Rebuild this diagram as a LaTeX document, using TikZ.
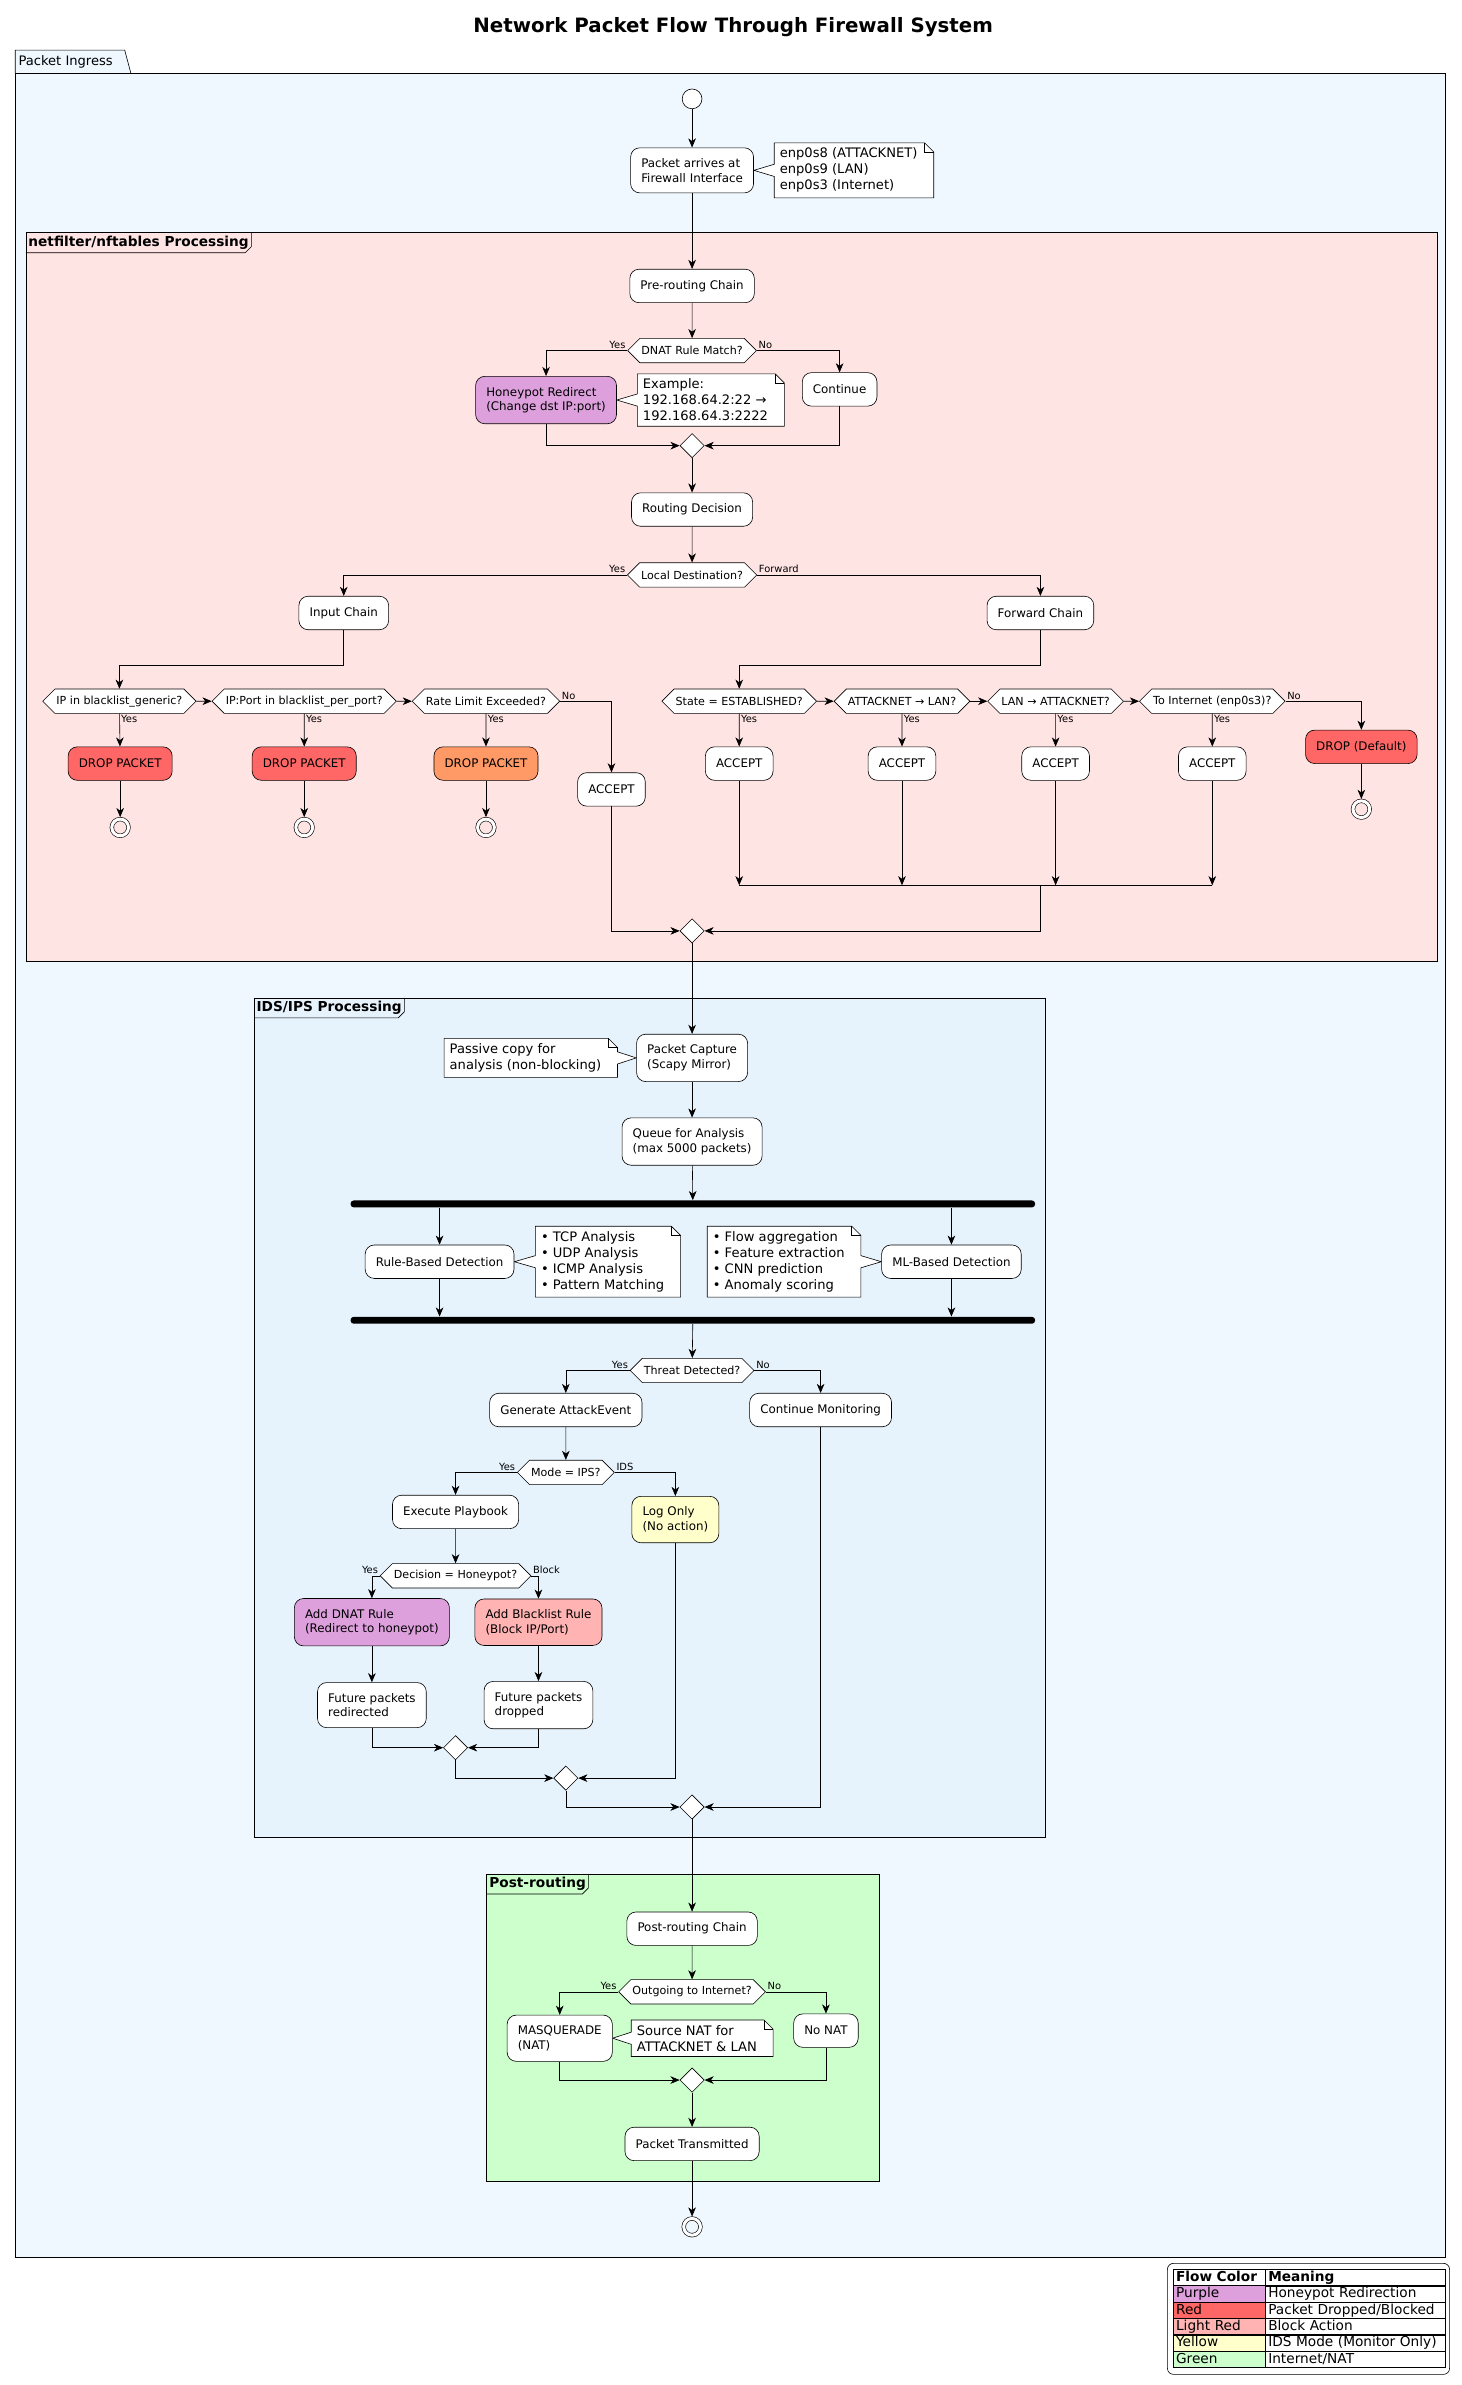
\documentclass[tikz,border=0pt]{standalone}
\usepackage{fontspec}
\setmainfont{DejaVu Sans}
\usetikzlibrary{arrows.meta,shapes.geometric,shapes.symbols}

\definecolor{ingressblue}{HTML}{F0F8FF}
\definecolor{nfpink}{HTML}{FFE4E4}
\definecolor{idsblue}{HTML}{E6F3FD}
\definecolor{postgreen}{HTML}{CCFFCC}
\definecolor{honeypurple}{HTML}{DDA0DD}
\definecolor{dropred}{HTML}{FF6666}
\definecolor{rateorange}{HTML}{FF9966}
\definecolor{blockred}{HTML}{FFB3B3}
\definecolor{logyellow}{HTML}{FFFFCC}

\pgfdeclarelayer{frames}
\pgfdeclarelayer{notes}
\pgfsetlayers{frames,notes,main}

% note #1 sits right of box #2
\newcommand{\noteleftof}[2]{%
  \begin{pgfonlayer}{notes}
    \draw[fill=white] (#1.north west) -- ([xshift=1pt]#1.north east) -- ([xshift=7pt,yshift=-6pt]#1.north east) -- ([xshift=7pt]#1.south east) -- (#1.south west) -- ([yshift=-4pt]#1.west) -- (#2.east) -- ([yshift=4pt]#1.west) -- cycle;
    \draw ([xshift=1pt]#1.north east) |- ([xshift=7pt,yshift=-6pt]#1.north east);
  \end{pgfonlayer}}
% note #1 sits left of box #2
\newcommand{\noterightof}[2]{%
  \begin{pgfonlayer}{notes}
    \draw[fill=white] (#1.north west) -- ([xshift=1pt]#1.north east) -- ([xshift=7pt,yshift=-6pt]#1.north east) -- ([xshift=7pt,yshift=4pt]#1.east) -- (#2.west) -- ([xshift=7pt,yshift=-4pt]#1.east) -- ([xshift=7pt]#1.south east) -- (#1.south west) -- cycle;
    \draw ([xshift=1pt]#1.north east) |- ([xshift=7pt,yshift=-6pt]#1.north east);
  \end{pgfonlayer}}

\begin{document}
\begin{tikzpicture}[x=1pt, y=-1pt, line width=0.6pt,
    >={Stealth[length=6pt,width=5pt,inset=1.8pt]},
    activity/.style={draw, fill=white, rectangle, rounded corners=6pt, align=left, inner xsep=7pt, inner ysep=7pt, minimum height=22pt, font=\fontsize{7.8}{9.6}\selectfont},
    decision/.style={draw, fill=white, signal, signal to=east and west, signal pointer angle=90, inner xsep=1pt, inner ysep=2pt, minimum height=16pt, font=\fontsize{7.3}{9}\selectfont},
    merge/.style={draw, fill=white, diamond, inner sep=0pt, minimum width=16pt, minimum height=16pt},
    startnode/.style={draw, fill=white, circle, minimum size=13pt, inner sep=0pt},
    endnode/.style={draw, circle, double=white, double distance=2pt, minimum size=11pt, inner sep=0pt, outer sep=1.3pt},
    note/.style={align=left, inner xsep=3.5pt, inner ysep=3.2pt, font=\fontsize{8.6}{10.5}\selectfont},
    bar/.style={fill=black, rectangle, rounded corners=2pt, minimum width=450pt, minimum height=4.5pt, inner sep=0pt},
    lbl/.style={font=\fontsize{6.5}{8}\selectfont, inner sep=1pt},
    frametitle/.style={font=\bfseries\fontsize{9}{11}\selectfont, inner xsep=1.5pt, inner ysep=2pt},
    legcell/.style={draw, rectangle, anchor=west, align=left, inner xsep=2pt, inner ysep=0pt, minimum height=10.75pt, text height=6.8pt, text depth=1.9pt, font=\fontsize{9}{10}\selectfont}
  ]
  \useasboundingbox (0,0) rectangle (961,1568);

  \node (title) [font=\bfseries\fontsize{13}{15}\selectfont] at (482,18) {Network Packet Flow Through Firewall System};

  % Frames
  \begin{pgfonlayer}{frames}
    \draw[fill=ingressblue] (10,48) -- (10,33) -- (82,33) -- (86,48);
    \draw[fill=ingressblue] (10,48) rectangle (950,1484);
    \node (pkgtab) [anchor=west, inner sep=1pt, font=\fontsize{8.6}{10}\selectfont] at (11,41) {Packet Ingress};

    \draw[fill=nfpink] (17,153) rectangle (945,632);
    \node (nftitle) [frametitle, anchor=north west] at (17,153) {netfilter/nftables Processing};
    \draw (nftitle.south west) -- ([xshift=-4pt]nftitle.south east) -- ([yshift=4pt]nftitle.south east) -- (nftitle.north east);

    \draw[fill=idsblue] (167,656) rectangle (687,1208);
    \node (idstitle) [frametitle, anchor=north west] at (167,656) {IDS/IPS Processing};
    \draw (idstitle.south west) -- ([xshift=-4pt]idstitle.south east) -- ([yshift=4pt]idstitle.south east) -- (idstitle.north east);

    \draw[fill=postgreen] (320,1232) rectangle (578,1434);
    \node (posttitle) [frametitle, anchor=north west] at (320,1232) {Post-routing};
    \draw (posttitle.south west) -- ([xshift=-4pt]posttitle.south east) -- ([yshift=4pt]posttitle.south east) -- (posttitle.north east);
  \end{pgfonlayer}

  % Ingress
  \node (start) [startnode] at (455,65) {};
  \node (arrive) [activity] at (455,112) {Packet arrives at\\Firewall Interface};
  \node (ifnote) [note, anchor=west] at (509,112) {enp0s8 (ATTACKNET)\\enp0s9 (LAN)\\enp0s3 (Internet)};
  \noteleftof{ifnote}{arrive}

  % netfilter
  \node (prechain) [activity] at (455,188) {Pre-routing Chain};
  \node (dnat) [decision] at (455,230.5) {DNAT Rule Match?};
  \node (honeypot) [activity, fill=honeypurple] at (359,263) {Honeypot Redirect\\(Change dst IP:port)};
  \node (exnote) [note, anchor=west] at (419,263) {Example:\\192.168.64.2:22 →\\192.168.64.3:2222};
  \noteleftof{exnote}{honeypot}
  \node (cont) [activity] at (552,256) {Continue};
  \node (m1) [merge] at (455,293) {};
  \node (routing) [activity] at (455,335) {Routing Decision};
  \node (local) [decision] at (455,378) {Local Destination?};
  \node (input) [activity] at (226,403) {Input Chain};
  \node (fwd) [activity] at (684,403) {Forward Chain};

  \node (ipgen) [decision] at (78.5,461) {IP in blacklist\_generic?};
  \node (ipport) [decision] at (200,461) {IP:Port in blacklist\_per\_port?};
  \node (rate) [decision] at (319.5,461) {Rate Limit Exceeded?};
  \node (drop1) [activity, fill=dropred] at (79,502) {DROP PACKET};
  \node (drop2) [activity, fill=dropred] at (200,502) {DROP PACKET};
  \node (drop3) [activity, fill=rateorange] at (319.5,502) {DROP PACKET};
  \node (end1) [endnode] at (79,544) {};
  \node (end2) [endnode] at (200,544) {};
  \node (end3) [endnode] at (319.5,544) {};
  \node (accin) [activity] at (402,519) {ACCEPT};

  \node (est) [decision] at (486,461) {State = ESTABLISHED?};
  \node (a2l) [decision] at (593,461) {ATTACKNET → LAN?};
  \node (l2a) [decision] at (694,461) {LAN → ATTACKNET?};
  \node (inet) [decision] at (797,461) {To Internet (enp0s3)?};
  \node (acc1) [activity] at (486,502) {ACCEPT};
  \node (acc2) [activity] at (593,502) {ACCEPT};
  \node (acc3) [activity] at (694,502) {ACCEPT};
  \node (acc4) [activity] at (797,502) {ACCEPT};
  \node (dropdef) [activity, fill=dropred] at (895,491) {DROP (Default)};
  \node (end4) [endnode] at (895,532) {};
  \coordinate (fjoin) at (684,582);
  \node (m2) [merge] at (455,612) {};

  % IDS/IPS
  \node (capture) [activity] at (455,695.5) {Packet Capture\\(Scapy Mirror)};
  \node (passnote) [note, anchor=east] at (399,695.5) {Passive copy for\\analysis (non-blocking)};
  \noterightof{passnote}{capture}
  \node (queue) [activity] at (455,750.5) {Queue for Analysis\\(max 5000 packets)};
  \node (forkbar) [bar] at (455.5,791.5) {};
  \node (rulebased) [activity] at (289,829.5) {Rule-Based Detection};
  \node (tcpnote) [note, anchor=west] at (352,829.5) {• TCP Analysis\\• UDP Analysis\\• ICMP Analysis\\• Pattern Matching};
  \noteleftof{tcpnote}{rulebased}
  \node (mlbased) [activity] at (625.5,829.5) {ML-Based Detection};
  \node (flownote) [note, anchor=east] at (559,829.5) {• Flow aggregation\\• Feature extraction\\• CNN prediction\\• Anomaly scoring};
  \noterightof{flownote}{mlbased}
  \node (joinbar) [bar] at (455.5,868) {};
  \node (threat) [decision] at (455,901) {Threat Detected?};
  \node (genev) [activity] at (372,927) {Generate AttackEvent};
  \node (contmon) [activity] at (539.5,927) {Continue Monitoring};
  \node (mode) [decision] at (372,968) {Mode = IPS?};
  \node (exec) [activity] at (299.5,994) {Execute Playbook};
  \node (logonly) [activity, fill=logyellow] at (444,999) {Log Only\\(No action)};
  \node (decide) [decision] at (299.5,1036) {Decision = Honeypot?};
  \node (dnatrule) [activity, fill=honeypurple] at (244.5,1066.5) {Add DNAT Rule\\(Redirect to honeypot)};
  \node (blrule) [activity, fill=blockred] at (354,1066.5) {Add Blacklist Rule\\(Block IP/Port)};
  \node (futred) [activity] at (244.5,1121) {Future packets\\redirected};
  \node (futdrop) [activity] at (354,1121) {Future packets\\dropped};
  \node (m3) [merge] at (299.5,1149) {};
  \node (m4) [merge] at (372,1169) {};
  \node (m5) [merge] at (455,1188) {};

  % Post-routing
  \node (postchain) [activity] at (455,1268) {Post-routing Chain};
  \node (outgoing) [decision] at (455,1309.5) {Outgoing to Internet?};
  \node (masq) [activity] at (368,1340) {MASQUERADE\\(NAT)};
  \node (srcnote) [note, anchor=west] at (415,1340) {Source NAT for\\ATTACKNET \& LAN};
  \noteleftof{srcnote}{masq}
  \node (nonat) [activity] at (543,1335) {No NAT};
  \node (m6) [merge] at (455,1367.5) {};
  \node (sent) [activity] at (455,1409.5) {Packet Transmitted};
  \node (endfinal) [endnode] at (455,1464) {};

  % Arrows
  \draw[->] (start) -- (arrive);
  \draw[->] (arrive) -- (prechain);
  \draw[->] (prechain) -- (dnat);
  \draw[->] (dnat.west) -| (honeypot.north);
  \draw[->] (dnat.east) -| (cont.north);
  \node (dnatyes) [lbl, anchor=south east] at (dnat.west) {Yes};
  \node (dnatno) [lbl, anchor=south west] at (dnat.east) {No};
  \draw[->] (honeypot.south) |- (m1.west);
  \draw[->] (cont.south) |- (m1.east);
  \draw[->] (m1) -- (routing);
  \draw[->] (routing) -- (local);
  \draw[->] (local.west) -| (input.north);
  \draw[->] (local.east) -| (fwd.north);
  \node (localyes) [lbl, anchor=south east] at (local.west) {Yes};
  \node (localfwd) [lbl, anchor=south west] at (local.east) {Forward};

  \draw[->] (input.south) -- ++(0,23) -| (ipgen.north);
  \draw[->] (ipgen) -- (ipport);
  \draw[->] (ipport) -- (rate);
  \draw[->] (ipgen) -- (drop1);
  \draw[->] (ipport) -- (drop2);
  \draw[->] (rate) -- (drop3);
  \node (ipgenyes) [lbl, anchor=north west] at (ipgen.south) {Yes};
  \node (ipportyes) [lbl, anchor=north west] at (ipport.south) {Yes};
  \node (rateyes) [lbl, anchor=north west] at (rate.south) {Yes};
  \draw[->] (drop1) -- (end1);
  \draw[->] (drop2) -- (end2);
  \draw[->] (drop3) -- (end3);
  \draw[->] (rate.east) -| (accin.north);
  \node (rateno) [lbl, anchor=south west] at (rate.east) {No};
  \draw[->] (accin.south) |- (m2.west);

  \draw[->] (fwd.south) -- ++(0,23) -| (est.north);
  \draw[->] (est) -- (a2l);
  \draw[->] (a2l) -- (l2a);
  \draw[->] (l2a) -- (inet);
  \draw[->] (est) -- (acc1);
  \draw[->] (a2l) -- (acc2);
  \draw[->] (l2a) -- (acc3);
  \draw[->] (inet) -- (acc4);
  \node (estyes) [lbl, anchor=north west] at (est.south) {Yes};
  \node (a2lyes) [lbl, anchor=north west] at (a2l.south) {Yes};
  \node (l2ayes) [lbl, anchor=north west] at (l2a.south) {Yes};
  \node (inetyes) [lbl, anchor=north west] at (inet.south) {Yes};
  \draw[->] (inet.east) -| (dropdef.north);
  \node (inetno) [lbl, anchor=south west] at (inet.east) {No};
  \draw[->] (dropdef) -- (end4);
  \draw[->] (acc1) -- (acc1 |- fjoin);
  \draw[->] (acc2) -- (acc2 |- fjoin);
  \draw[->] (acc3) -- (acc3 |- fjoin);
  \draw[->] (acc4) -- (acc4 |- fjoin);
  \draw (acc1 |- fjoin) -- (acc4 |- fjoin);
  \draw[->] (fjoin) |- (m2.east);

  \draw[->] (m2) -- (capture);
  \draw[->] (capture) -- (queue);
  \draw[->] (queue) -- (forkbar);
  \draw[->] (rulebased.north |- forkbar.south) -- (rulebased);
  \draw[->] (mlbased.north |- forkbar.south) -- (mlbased);
  \draw[->] (rulebased) -- (rulebased |- joinbar.north);
  \draw[->] (mlbased) -- (mlbased |- joinbar.north);
  \draw[->] (joinbar) -- (threat);
  \draw[->] (threat.west) -| (genev.north);
  \draw[->] (threat.east) -| (contmon.north);
  \node (threatyes) [lbl, anchor=south east] at (threat.west) {Yes};
  \node (threatno) [lbl, anchor=south west] at (threat.east) {No};
  \draw[->] (genev) -- (mode);
  \draw[->] (mode.west) -| (exec.north);
  \draw[->] (mode.east) -| (logonly.north);
  \node (modeyes) [lbl, anchor=south east] at (mode.west) {Yes};
  \node (modeids) [lbl, anchor=south west] at (mode.east) {IDS};
  \draw[->] (exec) -- (decide);
  \draw[->] (decide.west) -| (dnatrule.north);
  \draw[->] (decide.east) -| (blrule.north);
  \node (decideyes) [lbl, anchor=south east] at (decide.west) {Yes};
  \node (decideblock) [lbl, anchor=south west] at (decide.east) {Block};
  \draw[->] (dnatrule) -- (futred);
  \draw[->] (blrule) -- (futdrop);
  \draw[->] (futred.south) |- (m3.west);
  \draw[->] (futdrop.south) |- (m3.east);
  \draw[->] (m3.south) |- (m4.west);
  \draw[->] (logonly.south) |- (m4.east);
  \draw[->] (m4.south) |- (m5.west);
  \draw[->] (contmon.south) |- (m5.east);

  \draw[->] (m5) -- (postchain);
  \draw[->] (postchain) -- (outgoing);
  \draw[->] (outgoing.west) -| (masq.north);
  \draw[->] (outgoing.east) -| (nonat.north);
  \node (outyes) [lbl, anchor=south east] at (outgoing.west) {Yes};
  \node (outno) [lbl, anchor=south west] at (outgoing.east) {No};
  \draw[->] (masq.south) |- (m6.west);
  \draw[->] (nonat.south) |- (m6.east);
  \draw[->] (m6) -- (sent);
  \draw[->] (sent) -- (endfinal);

  % Legend
  \node (legendbox) [draw, fill=white, rounded corners=4pt, minimum width=185.5pt, minimum height=73pt] at (860.25,1524.5) {};
  \node (lh1) [legcell, text width=56.6pt, font=\bfseries\fontsize{9}{10}\selectfont] at (771,1497.4) {Flow Color};
  \node (lh2) [legcell, text width=114.4pt, font=\bfseries\fontsize{9}{10}\selectfont] at (831.6,1497.4) {Meaning};
  \node (lc1) [legcell, text width=56.6pt, fill=honeypurple] at (771,1508.1) {Purple};
  \node (lm1) [legcell, text width=114.4pt] at (831.6,1508.1) {Honeypot Redirection};
  \node (lc2) [legcell, text width=56.6pt, fill=dropred] at (771,1518.9) {Red};
  \node (lm2) [legcell, text width=114.4pt] at (831.6,1518.9) {Packet Dropped/Blocked};
  \node (lc3) [legcell, text width=56.6pt, fill=blockred] at (771,1529.6) {Light Red};
  \node (lm3) [legcell, text width=114.4pt] at (831.6,1529.6) {Block Action};
  \node (lc4) [legcell, text width=56.6pt, fill=logyellow] at (771,1540.4) {Yellow};
  \node (lm4) [legcell, text width=114.4pt] at (831.6,1540.4) {IDS Mode (Monitor Only)};
  \node (lc5) [legcell, text width=56.6pt, fill=postgreen] at (771,1551.1) {Green};
  \node (lm5) [legcell, text width=114.4pt] at (831.6,1551.1) {Internet/NAT};
\end{tikzpicture}
\end{document}
